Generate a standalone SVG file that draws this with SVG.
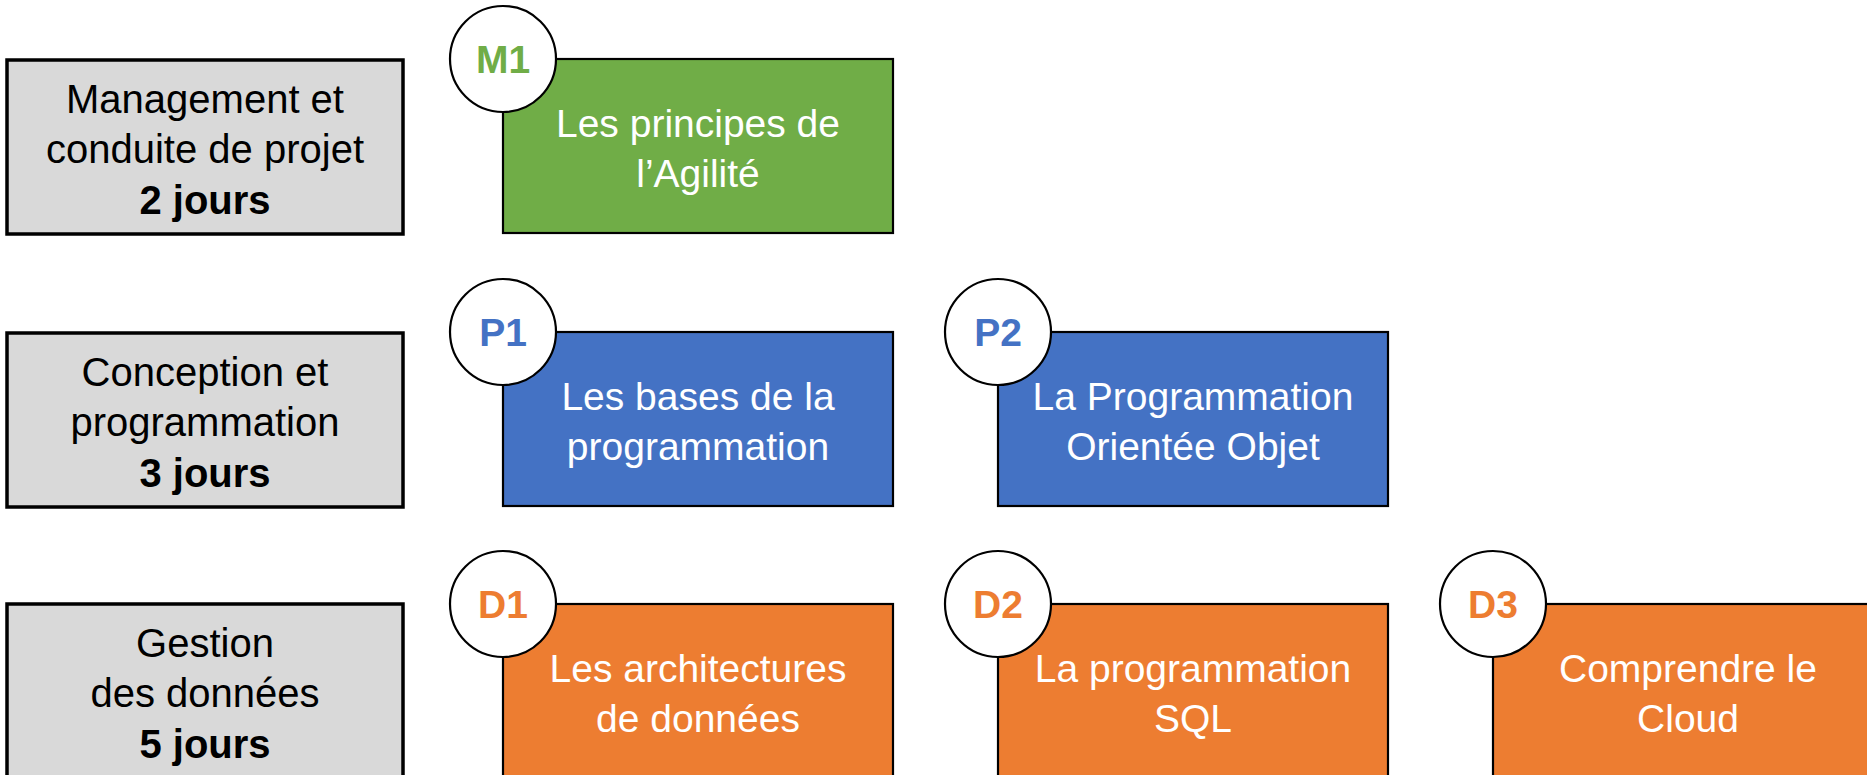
<svg xmlns="http://www.w3.org/2000/svg" width="1867" height="775" viewBox="0 0 1867 775">
  <style>
    text { font-family: "Liberation Sans", Arial, sans-serif; text-anchor: middle; }
    .cat { fill: #D9D9D9; stroke: #000; stroke-width: 3.5; }
    .cat-text { font-size: 40px; fill: #000; }
    .b { font-weight: bold; }
    .mod { stroke: #000; stroke-width: 2.2; }
    .green { fill: #70AD47; }
    .blue { fill: #4472C4; }
    .orange { fill: #ED7D31; }
    .mod-text { font-size: 39px; fill: #FFFFFF; }
    .badge { fill: #FFFFFF; stroke: #000; stroke-width: 2.2; }
    .badge-text { font-size: 39px; font-weight: bold; }
    .t-green { fill: #70AD47; }
    .t-blue { fill: #4472C4; }
    .t-orange { fill: #ED7D31; }
  </style>

  <!-- Category boxes (left column) -->
  <g id="cat-management">
    <rect class="cat" x="7" y="60" width="396" height="174"/>
    <text class="cat-text" x="205" y="113">Management et</text>
    <text class="cat-text" x="205" y="163">conduite de projet</text>
    <text class="cat-text b" x="205" y="214">2 jours</text>
  </g>
  <g id="cat-conception">
    <rect class="cat" x="7" y="333" width="396" height="174"/>
    <text class="cat-text" x="205" y="386">Conception et</text>
    <text class="cat-text" x="205" y="436">programmation</text>
    <text class="cat-text b" x="205" y="487">3 jours</text>
  </g>
  <g id="cat-donnees">
    <rect class="cat" x="7" y="604" width="396" height="174"/>
    <text class="cat-text" x="205" y="657">Gestion</text>
    <text class="cat-text" x="205" y="707">des données</text>
    <text class="cat-text b" x="205" y="758">5 jours</text>
  </g>

  <!-- Modules -->
  <g id="mod-M1">
    <rect class="mod green" x="503" y="59" width="390" height="174"/>
    <text class="mod-text" x="698" y="137">Les principes de</text>
    <text class="mod-text" x="698" y="187">l’Agilité</text>
    <circle class="badge" cx="503" cy="59" r="53"/>
    <text class="badge-text t-green" x="503" y="73">M1</text>
  </g>

  <g id="mod-P1">
    <rect class="mod blue" x="503" y="332" width="390" height="174"/>
    <text class="mod-text" x="698" y="410">Les bases de la</text>
    <text class="mod-text" x="698" y="460">programmation</text>
    <circle class="badge" cx="503" cy="332" r="53"/>
    <text class="badge-text t-blue" x="503" y="346">P1</text>
  </g>
  <g id="mod-P2">
    <rect class="mod blue" x="998" y="332" width="390" height="174"/>
    <text class="mod-text" x="1193" y="410">La Programmation</text>
    <text class="mod-text" x="1193" y="460">Orientée Objet</text>
    <circle class="badge" cx="998" cy="332" r="53"/>
    <text class="badge-text t-blue" x="998" y="346">P2</text>
  </g>

  <g id="mod-D1">
    <rect class="mod orange" x="503" y="604" width="390" height="174"/>
    <text class="mod-text" x="698" y="682">Les architectures</text>
    <text class="mod-text" x="698" y="732">de données</text>
    <circle class="badge" cx="503" cy="604" r="53"/>
    <text class="badge-text t-orange" x="503" y="618">D1</text>
  </g>
  <g id="mod-D2">
    <rect class="mod orange" x="998" y="604" width="390" height="174"/>
    <text class="mod-text" x="1193" y="682">La programmation</text>
    <text class="mod-text" x="1193" y="732">SQL</text>
    <circle class="badge" cx="998" cy="604" r="53"/>
    <text class="badge-text t-orange" x="998" y="618">D2</text>
  </g>
  <g id="mod-D3">
    <rect class="mod orange" x="1493" y="604" width="390" height="174"/>
    <text class="mod-text" x="1688" y="682">Comprendre le</text>
    <text class="mod-text" x="1688" y="732">Cloud</text>
    <circle class="badge" cx="1493" cy="604" r="53"/>
    <text class="badge-text t-orange" x="1493" y="618">D3</text>
  </g>

  <g id="connectors"/>
</svg>
